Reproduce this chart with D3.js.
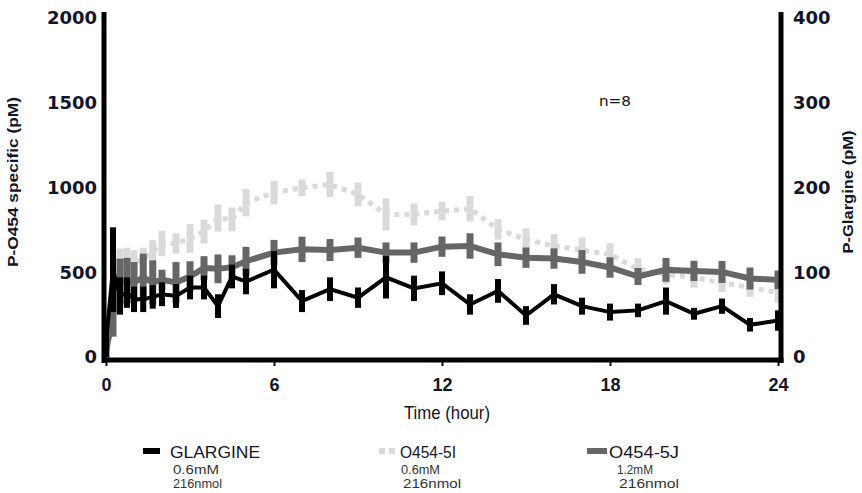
<!DOCTYPE html>
<html>
<head>
<meta charset="utf-8">
<script src="https://cdn.jsdelivr.net/npm/d3@7"></script>
<style>
  html, body { margin: 0; padding: 0; background: #fff; }
  svg { display: block; }
</style>
</head>
<body>
<svg id="chart" width="862" height="493"></svg>
<script>
// Sampling times (hours)
const times = [0, 0.25, 0.5, 0.75, 1, 1.33, 1.67, 2, 2.5, 3, 3.5, 4, 4.5, 5,
  6, 7, 8, 9, 10, 11, 12, 13, 14, 15, 16, 17, 18, 19, 20, 21, 22, 23, 24];

// GLARGINE, plasma glargine (pM, right axis)
const glargine = [18, 103, 72, 76, 68, 68, 71, 74, 72, 82, 82, 60, 95, 89,
  103, 66, 80, 70, 94, 81, 87, 62, 78, 49, 74, 60, 53, 55, 66, 51, 60, 38, 43];
const glargineErr = [18, 50, 22, 18, 15, 15, 14, 14, 14, 14, 14, 14, 14, 15,
  22, 13, 14, 12, 25, 15, 14, 12, 14, 11, 12, 10, 10, 8, 16, 7, 9, 8, 12];

// O454-5I, plasma O454 specific (pM, left axis)
const o4545I = [20, 350, 560, 570, 560, 575, 620, 670, 670, 700, 740, 820, 812, 910,
  970, 998, 1018, 959, 841, 841, 861, 875, 753, 694, 655, 630, 606, 518, 488, 469, 439, 410, 380];
const o4545IErr = [40, 100, 80, 75, 70, 70, 70, 75, 60, 85, 70, 80, 70, 80,
  70, 50, 75, 70, 95, 65, 55, 75, 60, 65, 70, 75, 65, 65, 60, 60, 55, 55, 60];

// O454-5J, plasma O454 specific (pM, left axis)
const o4545J = [30, 250, 440, 450, 440, 470, 440, 455, 440, 475, 525, 520, 530, 565,
  616, 635, 631, 645, 616, 616, 651, 655, 606, 586, 581, 561, 528, 475, 514, 508, 502, 463, 455];
const o4545JErr = [60, 130, 140, 135, 120, 140, 130, 60, 120, 90, 70, 85, 70, 85,
  75, 75, 65, 60, 60, 60, 60, 75, 70, 60, 60, 70, 60, 50, 70, 60, 65, 65, 55];

const xTicks = [0, 6, 12, 18, 24];
const leftTicks = [0, 500, 1000, 1500, 2000];
const rightTicks = [0, 100, 200, 300, 400];

const ink = "#12142a";
const svg = d3.select("#chart");

const x = d3.scaleLinear().domain([0, 24]).range([106, 778]);
const yL = d3.scaleLinear().domain([0, 2000]).range([357, 18]);
const yR = d3.scaleLinear().domain([0, 400]).range([357, 18]);

// Series drawn back to front
const series = [
  { name: "O454-5I", vals: o4545I, err: o4545IErr, y: yL, color: "#dadada", width: 5, dash: "5,5", bar: 7 },
  { name: "O454-5J", vals: o4545J, err: o4545JErr, y: yL, color: "#666666", width: 6, dash: null, bar: 7 },
  { name: "GLARGINE", vals: glargine, err: glargineErr, y: yR, color: "#000000", width: 4, dash: null, bar: 6 }
];

series.forEach(s => {
  const g = svg.append("g");
  const pts = times.map((t, i) => ({ t, v: s.vals[i], e: s.err[i] }));
  g.selectAll("line.err").data(pts).join("line")
    .attr("class", "err")
    .attr("x1", d => x(d.t)).attr("x2", d => x(d.t))
    .attr("y1", d => s.y(d.v - d.e)).attr("y2", d => s.y(d.v + d.e))
    .attr("stroke", s.color).attr("stroke-width", s.bar);
  g.append("path").datum(pts)
    .attr("fill", "none")
    .attr("stroke", s.color)
    .attr("stroke-width", s.width)
    .attr("stroke-linejoin", "miter")
    .attr("stroke-dasharray", s.dash)
    .attr("d", d3.line().x(d => x(d.t)).y(d => s.y(d.v)));
});

// Frame: thick left, right and bottom axis lines
const frame = svg.append("g").attr("stroke", "#000");
frame.append("line").attr("x1", 104).attr("x2", 104).attr("y1", 12).attr("y2", 363).attr("stroke-width", 5);
frame.append("line").attr("x1", 781).attr("x2", 781).attr("y1", 12).attr("y2", 363).attr("stroke-width", 5);
frame.append("line").attr("x1", 102).attr("x2", 783.5).attr("y1", 360).attr("y2", 360).attr("stroke-width", 5);

// Bottom axis
const gx = svg.append("g").attr("transform", "translate(0,361)")
  .call(d3.axisBottom(x).tickValues(xTicks).tickFormat(d3.format("d")).tickSize(5).tickPadding(12));
gx.select(".domain").remove();
gx.selectAll(".tick line").attr("stroke", "#000").attr("stroke-width", 2);
gx.selectAll(".tick text")
  .attr("fill", ink)
  .style("font-family", "'Liberation Sans Narrow', 'Arial Narrow', sans-serif")
  .style("font-weight", "bold").style("font-size", "18px");

// Left axis
const gl = svg.append("g").attr("transform", "translate(104,0)")
  .call(d3.axisLeft(yL).tickValues(leftTicks).tickFormat(d3.format("d")).tickSize(0).tickPadding(7));
gl.select(".domain").remove();
gl.selectAll(".tick text")
  .attr("fill", ink)
  .style("font-family", "'DejaVu Sans', sans-serif")
  .style("font-weight", "bold").style("font-size", "18px");

// Right axis
const gr = svg.append("g").attr("transform", "translate(781,0)")
  .call(d3.axisRight(yR).tickValues(rightTicks).tickFormat(d3.format("d")).tickSize(0).tickPadding(12));
gr.select(".domain").remove();
gr.selectAll(".tick text")
  .attr("fill", ink)
  .style("font-family", "'DejaVu Sans', sans-serif")
  .style("font-weight", "bold").style("font-size", "18px");

// Axis titles
svg.append("text")
  .attr("transform", "translate(18,182) rotate(-90)")
  .attr("text-anchor", "middle")
  .attr("textLength", 170).attr("lengthAdjust", "spacingAndGlyphs")
  .attr("fill", ink)
  .style("font-family", "'Liberation Sans', Arial, sans-serif")
  .style("font-weight", "bold").style("font-size", "15px")
  .text("P-O454 specific (pM)");

svg.append("text")
  .attr("transform", "translate(853,192) rotate(-90)")
  .attr("text-anchor", "middle")
  .attr("textLength", 123).attr("lengthAdjust", "spacingAndGlyphs")
  .attr("fill", ink)
  .style("font-family", "'Liberation Sans', Arial, sans-serif")
  .style("font-weight", "bold").style("font-size", "14px")
  .text("P-Glargine (pM)");

svg.append("text")
  .attr("x", 447).attr("y", 419)
  .attr("text-anchor", "middle")
  .attr("textLength", 86).attr("lengthAdjust", "spacingAndGlyphs")
  .attr("fill", ink)
  .style("font-family", "'Liberation Sans Narrow', 'Arial Narrow', sans-serif")
  .style("font-size", "19px")
  .text("Time (hour)");

svg.append("text")
  .attr("x", 599).attr("y", 106)
  .attr("textLength", 32).attr("lengthAdjust", "spacingAndGlyphs")
  .attr("fill", "#111")
  .style("font-family", "'DejaVu Sans', sans-serif")
  .style("font-size", "14px")
  .text("n=8");

// Legend
const legend = [
  { name: "GLARGINE", conc: "0.6mM", dose: "216nmol", color: "#000", dash: null, sw: [143, 160], tx: 170, tl: 90, sx: 173, sub: [46, 49] },
  { name: "O454-5I", conc: "0.6mM", dose: "216nmol", color: "#dadada", dash: "6,4", sw: [379, 397], tx: 400, tl: 56, sx: 401, sub: [39, 58] },
  { name: "O454-5J", conc: "1.2mM", dose: "216nmol", color: "#666666", dash: null, sw: [587, 607], tx: 609, tl: 70, sx: 617, sub: [36, 60] }
];
const lg = svg.append("g");
legend.forEach(d => {
  lg.append("line")
    .attr("x1", d.sw[0]).attr("x2", d.sw[1]).attr("y1", 451).attr("y2", 451)
    .attr("stroke", d.color).attr("stroke-width", 6)
    .attr("stroke-dasharray", d.dash);
  lg.append("text")
    .attr("x", d.tx).attr("y", 458)
    .attr("textLength", d.tl).attr("lengthAdjust", "spacingAndGlyphs")
    .attr("fill", ink)
    .style("font-family", "'Liberation Sans', Arial, sans-serif")
    .style("font-size", "16px")
    .text(d.name);
  lg.append("text")
    .attr("x", d.sx).attr("y", 474)
    .attr("textLength", d.sub[0]).attr("lengthAdjust", "spacingAndGlyphs")
    .attr("fill", "#333")
    .style("font-family", "'Liberation Sans', Arial, sans-serif")
    .style("font-size", "12px")
    .text(d.conc);
  lg.append("text")
    .attr("x", d.sx + (d.name === "GLARGINE" ? 0 : 2)).attr("y", 488)
    .attr("textLength", d.sub[1]).attr("lengthAdjust", "spacingAndGlyphs")
    .attr("fill", "#333")
    .style("font-family", "'Liberation Sans', Arial, sans-serif")
    .style("font-size", "12px")
    .text(d.dose);
});
</script>
</body>
</html>
